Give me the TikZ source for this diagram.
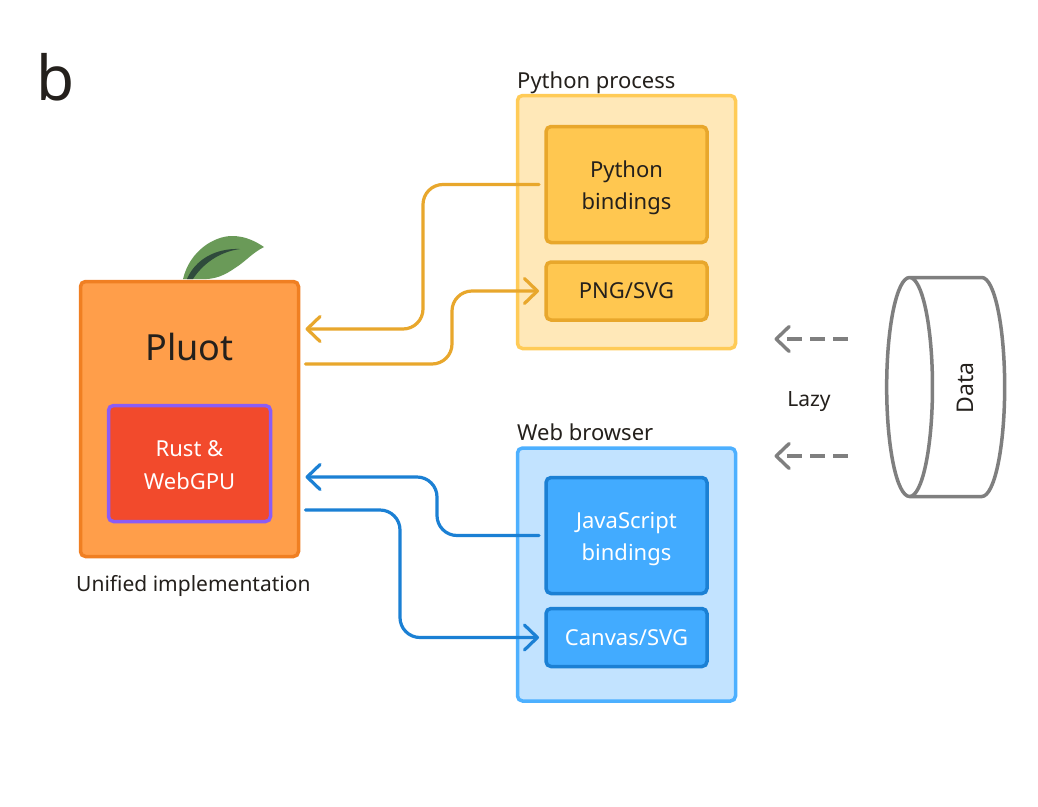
\documentclass[tikz,border=0pt]{standalone}
\usepackage{fontspec}
\setmainfont{Noto Sans}
\usepackage{xcolor}
\usetikzlibrary{arrows.meta,shapes.geometric}
\definecolor{pluotfill}{HTML}{FF9E4A}
\definecolor{pluotline}{HTML}{F07F22}
\definecolor{rustfill}{HTML}{F24A2C}
\definecolor{rustline}{HTML}{8B5CF6}
\definecolor{pyfill}{HTML}{FFE8B8}
\definecolor{pyline}{HTML}{FFCB57}
\definecolor{pyinner}{HTML}{FFC750}
\definecolor{pyarrow}{HTML}{E8A72C}
\definecolor{webfill}{HTML}{C2E3FF}
\definecolor{webline}{HTML}{4DB0FF}
\definecolor{webinner}{HTML}{42ABFF}
\definecolor{webarrow}{HTML}{1B80D4}
\definecolor{inktext}{HTML}{24201C}
\definecolor{lazygray}{HTML}{7F7F7F}
\definecolor{leafgreen}{HTML}{6A9A58}
\definecolor{leafvein}{HTML}{2F4A3C}
\newcommand{\fs}[1]{\fontsize{#1}{#1}\selectfont}
\newcommand{\lift}[1]{\rule{0pt}{#1}}
\tikzset{
	box/.style={draw,line width=3.5pt,rounded corners=5pt,inner sep=0pt,outer sep=0pt,align=center,font=\fs{22}\linespread{1.48}\selectfont,text=inktext},
	pyouter/.style={box,fill=pyfill,draw=pyline,minimum width=218pt,minimum height=253pt},
	pybox/.style={box,fill=pyinner,draw=pyarrow,minimum width=161pt},
	webouter/.style={box,fill=webfill,draw=webline,minimum width=218pt,minimum height=253pt},
	webbox/.style={box,fill=webinner,draw=webarrow,minimum width=161pt,text=white},
	label/.style={anchor=west,inner sep=0pt,text=inktext,font=\fs{21}},
	flow/.style={line width=3.2pt,line cap=round,rounded corners=20pt,shorten <=7pt,shorten >=7pt,-{Straight Barb[length=13pt,width=25pt,round]}},
	lazy/.style={draw=lazygray,line width=3.4pt,dash pattern=on 15pt off 8pt,-{Straight Barb[length=13pt,width=25pt,round]}}
}
\begin{document}
\begin{tikzpicture}[x=1pt,y=-1pt]
	\useasboundingbox (0,0) rectangle (1038,806);
	\fill[fill=white] (0,0) rectangle (1038,806);
	\node[inner sep=0pt,text=inktext,font=\fs{62}] (panel) at (56,77) {b};
	% leaf sits behind the box
	\fill[fill=leafgreen] (183,279) .. controls (190,250) and (215,236) .. (232,236) .. controls (245,236) and (255,241) .. (264,247) .. controls (252,253) and (245,262) .. (235,268) .. controls (225,275) and (215,280) .. (200,279) -- cycle;
	\fill[fill=leafvein] (187,279) .. controls (195,260) and (215,248) .. (240,249) .. controls (218,252) and (202,265) .. (193,279) -- cycle;
	\node[box,fill=pluotfill,draw=pluotline,minimum width=218pt,minimum height=275pt] (pluot) at (189.5,419) {};
	\node[inner sep=0pt,text=inktext,font=\fs{36}] (name) at (189.5,347) {Pluot};
	\node[box,fill=rustfill,draw=rustline,minimum width=162pt,minimum height=116pt,text=white] (rust) at (189.5,463.5) {\lift{19pt}Rust \&\\WebGPU};
	\node[label] (unified) at (76,586) {Unified implementation};

	\node[label,font=\fs{22}] (pylabel) at (517,83) {Python process};
	\node[pyouter] (python) at (626.5,222) {};
	\node[pybox,minimum height=116pt] (pybind) at (626.5,184.5) {\lift{23pt}Python\\bindings};
	\node[pybox,minimum height=58pt] (png) at (626.5,291) {PNG/SVG};

	\node[label,font=\fs{22}] (weblabel) at (517,432) {Web browser};
	\node[webouter] (web) at (626.5,574.5) {};
	\node[webbox,minimum height=116pt] (js) at (626.5,535.5) {\lift{23pt}JavaScript\\bindings};
	\node[webbox,minimum height=58pt] (canvas) at (626.5,637.5) {Canvas/SVG};

	\node[cylinder,draw=lazygray,line width=3.5pt,rotate=90,shape border rotate=90,aspect=0.9,minimum width=219pt,minimum height=118pt,inner sep=0pt,font=\fs{23}] (data) at (958,387) {\phantom{Data}};
	\node[inner sep=0pt,rotate=90,text=inktext,font=\fs{23}] (datalabel) at (965,388) {Data};
	\node[inner sep=0pt,text=inktext,font=\fs{21}] (lazylabel) at (809,402) {Lazy};

	\draw[flow,draw=pyarrow] (pybind.west) -- (423,184.5) -- (423,329) -- (pluot.east |- 0,329);
	\draw[flow,draw=pyarrow] (pluot.east |- 0,364) -- (452,364) -- (452,291) -- (png.west);
	\draw[flow,draw=webarrow] (js.west) -- (437,535.5) -- (437,477) -- (pluot.east |- 0,477);
	\draw[flow,draw=webarrow] (pluot.east |- 0,510) -- (400,510) -- (400,637.5) -- (canvas.west);
	\draw[lazy,shorten <=37pt,shorten >=39pt] (data.north |- 0,339) -- (python.east |- 0,339);
	\draw[lazy,shorten <=37pt,shorten >=39pt] (data.north |- 0,456) -- (web.east |- 0,456);
\end{tikzpicture}
\end{document}
